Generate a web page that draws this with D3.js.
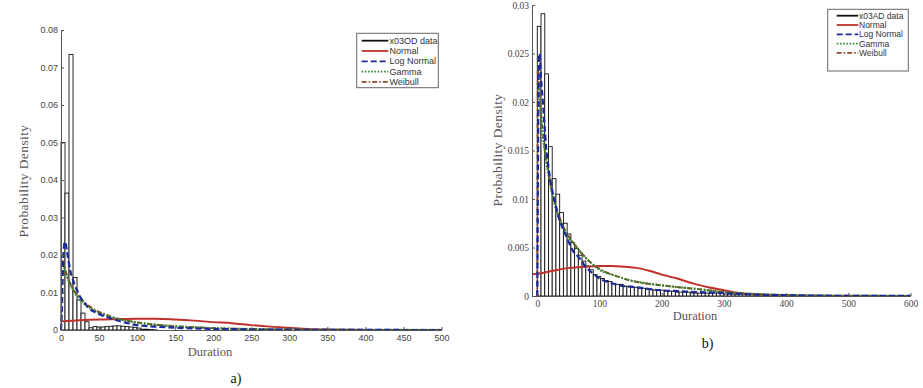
<!DOCTYPE html>
<html><head><meta charset="utf-8">
<script src="https://cdn.jsdelivr.net/npm/d3@7"></script>
<style>body{margin:0;background:#fff}svg{display:block}</style>
</head><body><svg id="c" width="923" height="388"></svg>
<script>
// ---------- DATA ----------
const seriesNames = ["Normal", "Log Normal", "Gamma", "Weibull"];
const legendA = ["x03OD data"].concat(seriesNames);
const legendB = ["x03AD data"].concat(seriesNames);

const ticksAX = [0, 50, 100, 150, 200, 250, 300, 350, 400, 450, 500];
const ticksAY = [0, 0.01, 0.02, 0.03, 0.04, 0.05, 0.06, 0.07, 0.08];
const ticksBX = [0, 100, 200, 300, 400, 500, 600];
const ticksBY = [0, 0.005, 0.01, 0.015, 0.02, 0.025, 0.03];

// histogram a): bin width and densities (bins start at 0)
const binWidthA = 5.26;
const histA = [0.050, 0.0365, 0.0735, 0.0140, 0.0080, 0.0045, 0.0022, 0.0006, 0.0009, 0.0008,
  0.0008, 0.0009, 0.0010, 0.0011, 0.0011, 0.0010, 0.0009, 0.0008, 0.0007, 0.0005,
  0.0002, 0.0002, 0.0001, 0.00005];

// histogram b)
const binWidthB = 6;
const histB = [0.0278, 0.0291, 0.0229, 0.0154, 0.0121, 0.0105, 0.0086, 0.0075, 0.0064, 0.0055,
  0.0049, 0.0042, 0.0036, 0.0031, 0.0027, 0.0022, 0.0020, 0.0018, 0.0016, 0.0015,
  0.0013, 0.0012, 0.0012, 0.0010, 0.0010, 0.0009, 0.0009, 0.0008, 0.0008, 0.0007,
  0.0007, 0.0006, 0.0006, 0.0006, 0.0005, 0.0005, 0.0005, 0.0004, 0.0004, 0.0004,
  0.0004, 0.0003, 0.0003, 0.0003, 0.0003, 0.0003, 0.0003, 0.0003, 0.0003, 0.0003,
  0.0002, 0.0002, 0.0002, 0.0002, 0.0002, 0.00015, 0.00015, 0.00015, 0.00015, 0.00015,
  0.0001, 0.0001, 0.0001, 0.0001, 0.0001, 0.0001];

// fitted curves a): [duration, density]
const normalA = [[0,0.0023],[25,0.0026],[50,0.0028],[75,0.0029],[100,0.0030],[125,0.0030],[150,0.0028],
  [175,0.0025],[200,0.0021],[225,0.0018],[250,0.0013],[275,0.0009],[300,0.0006],[325,0.0003],
  [350,0.00015],[400,0.00003],[450,0],[500,0]];
const lognormA = [[0,0],[1,0.004],[2,0.012],[3,0.019],[4,0.0225],[5,0.0235],[6,0.0232],[8,0.0208],
  [10,0.0183],[12,0.0160],[15,0.0138],[18,0.0120],[22,0.0102],[25,0.0089],[30,0.0075],[36,0.0059],
  [45,0.0047],[58,0.0036],[70,0.0028],[80,0.0022],[100,0.0013],[125,0.0009],[150,0.0006],
  [200,0.0003],[250,0.00015],[300,0.00008],[400,0.00002],[500,0]];
const gammaA = [[3,0.0175],[5,0.0160],[8,0.0142],[10,0.0132],[12,0.0122],[15,0.0110],[18,0.0099],
  [22,0.0088],[25,0.0081],[30,0.0071],[36,0.0062],[45,0.0051],[58,0.0040],[70,0.0032],[80,0.0027],
  [100,0.0020],[125,0.0014],[150,0.0010],[200,0.0005],[250,0.00025],[300,0.00012],[400,0.00003],[500,0.00001]];
const weibullA = [[2,0.0185],[5,0.0165],[8,0.0145],[12,0.0125],[15,0.0112],[20,0.0097],[25,0.0085],
  [30,0.0075],[36,0.0065],[45,0.0053],[58,0.0042],[70,0.0033],[80,0.0028],[100,0.0020],[125,0.0014],
  [150,0.0010],[200,0.0005],[250,0.00025],[300,0.00012],[400,0.00003],[500,0.00001]];

// fitted curves b)
const normalB = [[-8.5,0.00225],[0,0.0023],[25,0.0026],[52,0.0029],[79,0.00302],[100,0.00308],[120,0.0031],
  [140,0.00302],[160,0.0029],[180,0.0026],[200,0.0022],[225,0.0018],[250,0.0013],
  [275,0.0009],[300,0.0006],[325,0.0003],[350,0.00015],[375,0.00006],[400,0.00002],[450,0],[500,0],[600,0]];
const lognormB = [[0,0],[1,0.012],[2,0.022],[3,0.0250],[4,0.0248],[6,0.0225],[9,0.0200],[12,0.0172],
  [14,0.0154],[17,0.0138],[20,0.0123],[25,0.0106],[30,0.0092],[36,0.0078],[42,0.0068],[47,0.0061],
  [57,0.0047],[68,0.0039],[79,0.0029],[90,0.0023],[100,0.0018],[115,0.0014],[132,0.0011],[159,0.0009],
  [196,0.0006],[228,0.0005],[260,0.0004],[300,0.0003],[350,0.00015],[400,0.00008],[500,0.00002],[600,0.00001]];
const gammaB = [[1,0.0220],[2,0.0215],[4,0.0200],[6,0.0185],[9,0.0165],[12,0.0150],[15,0.0137],
  [20,0.0118],[25,0.0102],[30,0.0090],[40,0.0073],[50,0.0061],[60,0.0053],[80,0.0038],[100,0.0027],
  [125,0.0021],[150,0.0016],[175,0.0013],[200,0.0011],[228,0.0009],[260,0.0007],[300,0.0004],
  [350,0.0002],[400,0.0001],[500,0.00002],[600,0.00001]];
const weibullB = [[0,0],[0.5,0.015],[1,0.0235],[2,0.0225],[4,0.0205],[6,0.0188],[9,0.0168],[12,0.0152],
  [15,0.0139],[20,0.0120],[25,0.0104],[30,0.0092],[40,0.0074],[50,0.0062],[60,0.0053],[80,0.0038],
  [100,0.0028],[125,0.0021],[150,0.0016],[175,0.0013],[200,0.0011],[228,0.0009],[260,0.0007],
  [300,0.0004],[350,0.0002],[400,0.0001],[500,0.00002],[600,0.00001]];

// ---------- STYLES ----------
const styles = {
  "Normal":     {color: "#c0302a", dash: null,        width: 2},
  "Log Normal": {color: "#1c2a9a", dash: "6,3",       width: 2.2},
  "Gamma":      {color: "#2a8a2a", dash: "1.6,1.6",   width: 2.2},
  "Weibull":    {color: "#8a4a28", dash: "5,2,1.5,2", width: 2}
};

const svg = d3.select("#c");

function panel(cfg) {
  const g = svg.append("g");
  const x = d3.scaleLinear().domain(cfg.xDomain).range(cfg.xRange);
  const y = d3.scaleLinear().domain(cfg.yDomain).range(cfg.yRange);

  // bars
  g.append("g").selectAll("rect").data(cfg.hist).join("rect")
    .attr("x", (d, i) => x(i * cfg.binWidth))
    .attr("width", (d, i) => x((i + 1) * cfg.binWidth) - x(i * cfg.binWidth))
    .attr("y", d => y(d))
    .attr("height", d => y(0) - y(d))
    .attr("fill", "#fff")
    .attr("stroke", "#111")
    .attr("stroke-width", 0.9);

  // curves
  const line = d3.line().x(d => x(d[0])).y(d => y(d[1])).curve(d3.curveMonotoneX);
  const order = [["Normal", cfg.normal], ["Weibull", cfg.weibull], ["Gamma", cfg.gamma], ["Log Normal", cfg.lognorm]];
  order.forEach(([name, data]) => {
    const s = styles[name];
    g.append("path").datum(data).attr("d", line)
      .attr("fill", "none").attr("stroke", s.color)
      .attr("stroke-width", s.width)
      .attr("stroke-dasharray", s.dash);
  });

  // axes
  const xa = g.append("g").attr("transform", `translate(0,${y(0)})`)
    .call(d3.axisBottom(x).tickValues(cfg.ticksX).tickFormat(d => String(d))
      .tickSizeInner(-3).tickSizeOuter(0).tickPadding(cfg.xPad));
  const ya = g.append("g").attr("transform", `translate(${cfg.xRange[0]},0)`)
    .call(d3.axisLeft(y).tickValues(cfg.ticksY).tickFormat(d => String(d))
      .tickSizeInner(-3).tickSizeOuter(0).tickPadding(3));
  [xa, ya].forEach(a => {
    a.select(".domain").attr("stroke", "#555").attr("stroke-width", 1);
    a.selectAll(".tick line").attr("stroke", "#555");
    a.selectAll("text").attr("fill", "#444")
      .attr("font-family", cfg.tickFont).attr("font-size", cfg.tickSize);
  });

  // axis titles
  g.append("text").attr("x", cfg.xTitle[0]).attr("y", cfg.xTitle[1])
    .attr("text-anchor", "middle").attr("font-family", "Liberation Serif, Times New Roman, serif")
    .attr("font-size", 12.5).attr("fill", "#555").text("Duration");
  g.append("text").attr("transform", `translate(${cfg.yTitle[0]},${cfg.yTitle[1]}) rotate(-90)`)
    .attr("text-anchor", "middle").attr("font-family", "Liberation Serif, Times New Roman, serif")
    .attr("font-size", 13.5).attr("fill", "#555").attr("letter-spacing", 0.4).text("Probability Density");
  g.append("text").attr("x", cfg.tag[0]).attr("y", cfg.tag[1])
    .attr("text-anchor", "middle").attr("font-family", "Liberation Serif, Times New Roman, serif")
    .attr("font-size", 14).attr("fill", "#111").text(cfg.tagText);

  // legend
  const L = cfg.legend;
  const lg = g.append("g");
  lg.append("rect").attr("x", L.box[0]).attr("y", L.box[1]).attr("width", L.box[2]).attr("height", L.box[3])
    .attr("fill", "#fff").attr("stroke", "#666").attr("stroke-width", 1);
  cfg.legendLabels.forEach((lab, i) => {
    const yy = L.y0 + i * L.dy;
    const s = i === 0 ? {color: "#111", dash: null, width: 1.5} : styles[lab];
    lg.append("line").attr("x1", L.lx[0]).attr("x2", L.lx[1]).attr("y1", yy).attr("y2", yy)
      .attr("stroke", s.color).attr("stroke-width", 1.8).attr("stroke-dasharray", s.dash);
    lg.append("text").attr("x", L.tx).attr("y", yy).attr("dy", "0.35em")
      .attr("font-family", "Liberation Sans, Arial, sans-serif").attr("font-size", L.fs)
      .attr("fill", "#333").text(lab);
  });
}

panel({
  xDomain: [0, 500], xRange: [61, 441.5], yDomain: [0, 0.08], yRange: [330, 30],
  hist: histA, binWidth: binWidthA,
  normal: normalA, lognorm: lognormA, gamma: gammaA, weibull: weibullA,
  ticksX: ticksAX, ticksY: ticksAY, xPad: 4.5,
  tickFont: "Liberation Sans, Arial, sans-serif", tickSize: 9,
  xTitle: [210, 356], yTitle: [28, 181], tag: [236, 383], tagText: "a)",
  legendLabels: legendA,
  legend: {box: [356.7, 33.3, 81.6, 54.4], y0: 40.7, dy: 10.3, lx: [361.7, 388.3], tx: 389.5, fs: 9}
});

panel({
  xDomain: [-8.5, 600], xRange: [532, 910.5], yDomain: [0, 0.03], yRange: [296, 5],
  hist: histB, binWidth: binWidthB,
  normal: normalB, lognorm: lognormB, gamma: gammaB, weibull: weibullB,
  ticksX: ticksBX, ticksY: ticksBY, xPad: 4,
  tickFont: "Liberation Serif, Times New Roman, serif", tickSize: 9.5,
  xTitle: [695, 320], yTitle: [502, 150], tag: [707.5, 348], tagText: "b)",
  legendLabels: legendB,
  legend: {box: [827.7, 9.3, 80.6, 61.7], y0: 15.7, dy: 9.3, lx: [836.7, 858.3], tx: 859, fs: 8.5}
});
</script>
</body></html>
